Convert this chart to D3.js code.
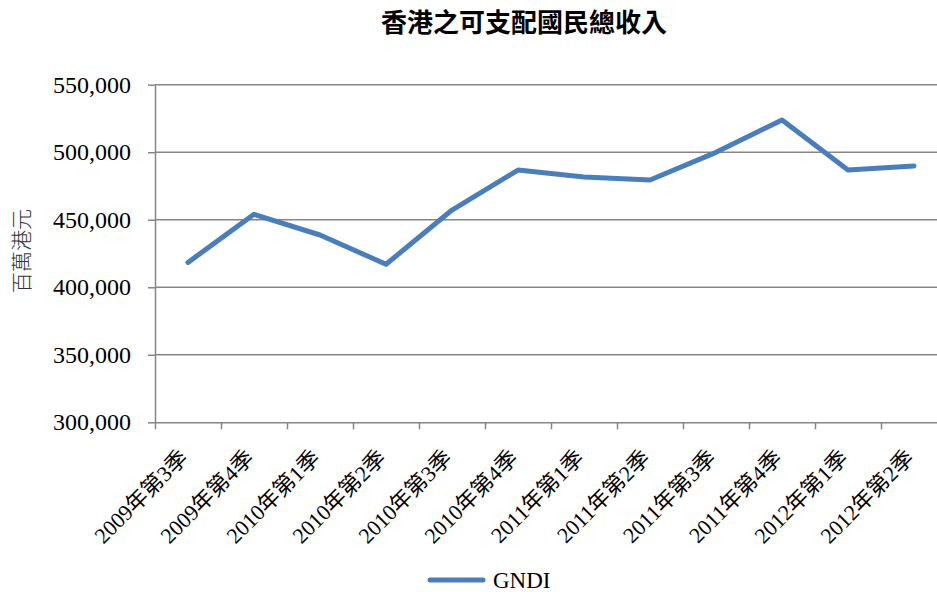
<!DOCTYPE html>
<html>
<head>
<meta charset="utf-8">
<script src="https://cdn.jsdelivr.net/npm/d3@7"></script>
<style>
  html, body { margin: 0; padding: 0; background: #fff; }
  svg { display: block; }
</style>
</head>
<body>
<svg id="chart"></svg>
<script>
// ── Data ─────────────────────────────────────────────
const quarters = ['2009年第3季', '2009年第4季', '2010年第1季', '2010年第2季',
                  '2010年第3季', '2010年第4季', '2011年第1季', '2011年第2季',
                  '2011年第3季', '2011年第4季', '2012年第1季', '2012年第2季'];
const gndi = [418400, 454000, 438700, 417000, 457200, 486800,
              481600, 479400, 499900, 523900, 486800, 489800];
const yTicks = [300000, 350000, 400000, 450000, 500000, 550000];

const W = 937, H = 592;
const plot = { left: 155, right: 947, top: 84.7, bottom: 422.3 };
const GRID = '#868686';
const BLUE = '#4a7ebb';
const SERIF = '"Liberation Serif", "Times New Roman", "Noto Sans CJK TC", serif';

const svg = d3.select('#chart').attr('width', W).attr('height', H);

// ── Scales ───────────────────────────────────────────
const x = d3.scaleBand().domain(quarters).range([plot.left, plot.right]).padding(0);
const xEdge = d3.scaleLinear().domain([0, quarters.length]).range([plot.left, plot.right]);
const y = d3.scaleLinear().domain([300000, 550000]).range([plot.bottom, plot.top]);

// ── Title ────────────────────────────────────────────
svg.append('text')
  .attr('x', 524).attr('y', 32)
  .attr('text-anchor', 'middle')
  .attr('font-family', '"Noto Sans CJK TC", sans-serif')
  .attr('font-weight', 'bold')
  .attr('font-size', 26)
  .attr('fill', '#000')
  .text('香港之可支配國民總收入');

// ── Grid lines ───────────────────────────────────────
svg.append('g')
  .selectAll('line')
  .data(yTicks.slice(1))
  .join('line')
    .attr('x1', plot.left).attr('x2', plot.right)
    .attr('y1', d => y(d)).attr('y2', d => y(d))
    .attr('stroke', GRID).attr('stroke-width', 1.5);

// ── Axes ─────────────────────────────────────────────
const axisStyle = sel => sel
  .call(ax => ax.select('.domain').attr('stroke', GRID).attr('stroke-width', 1.5))
  .call(ax => ax.selectAll('.tick line').attr('stroke', GRID).attr('stroke-width', 1.5));

svg.append('g')
  .attr('transform', `translate(${plot.left},0)`)
  .call(d3.axisLeft(y).tickValues(yTicks).tickSize(7).tickSizeOuter(0)
          .tickPadding(17).tickFormat(d3.format(',')))
  .call(axisStyle)
  .call(ax => ax.selectAll('text')
    .attr('fill', '#000').attr('font-size', 24).attr('font-family', SERIF));

svg.append('g')
  .attr('transform', `translate(0,${plot.bottom})`)
  .call(d3.axisBottom(xEdge).tickValues(d3.range(quarters.length + 1))
          .tickSize(7).tickSizeOuter(0).tickFormat(''))
  .call(axisStyle);

// Category labels, rotated 45°
svg.append('g')
  .selectAll('text')
  .data(quarters)
  .join('text')
    .attr('transform', d => `translate(${x(d) + x.bandwidth() / 2 + 1},${plot.bottom + 37}) rotate(-45)`)
    .attr('text-anchor', 'end')
    .attr('font-family', SERIF)
    .attr('font-size', 22)
    .attr('fill', '#000')
    .text(d => d);

// Y axis title
svg.append('text')
  .attr('transform', 'translate(29,251) rotate(-90)')
  .attr('text-anchor', 'middle')
  .attr('font-family', '"Noto Sans CJK TC", sans-serif')
  .attr('font-weight', 300)
  .attr('font-size', 21)
  .attr('fill', '#333')
  .text('百萬港元');

// ── Series line ──────────────────────────────────────
const line = d3.line()
  .x((d, i) => x(quarters[i]) + x.bandwidth() / 2)
  .y(d => y(d));

svg.append('path')
  .datum(gndi)
  .attr('d', line)
  .attr('fill', 'none')
  .attr('stroke', BLUE)
  .attr('stroke-width', 5)
  .attr('stroke-linejoin', 'round')
  .attr('stroke-linecap', 'round');

// ── Legend ───────────────────────────────────────────
const legend = svg.append('g').attr('transform', 'translate(430,580)');
legend.append('line')
  .attr('x1', 0).attr('x2', 53)
  .attr('stroke', BLUE).attr('stroke-width', 5).attr('stroke-linecap', 'round');
legend.append('text')
  .attr('x', 63).attr('y', 8)
  .attr('font-family', SERIF).attr('font-size', 23).attr('fill', '#000')
  .text('GNDI');
</script>
</body>
</html>
